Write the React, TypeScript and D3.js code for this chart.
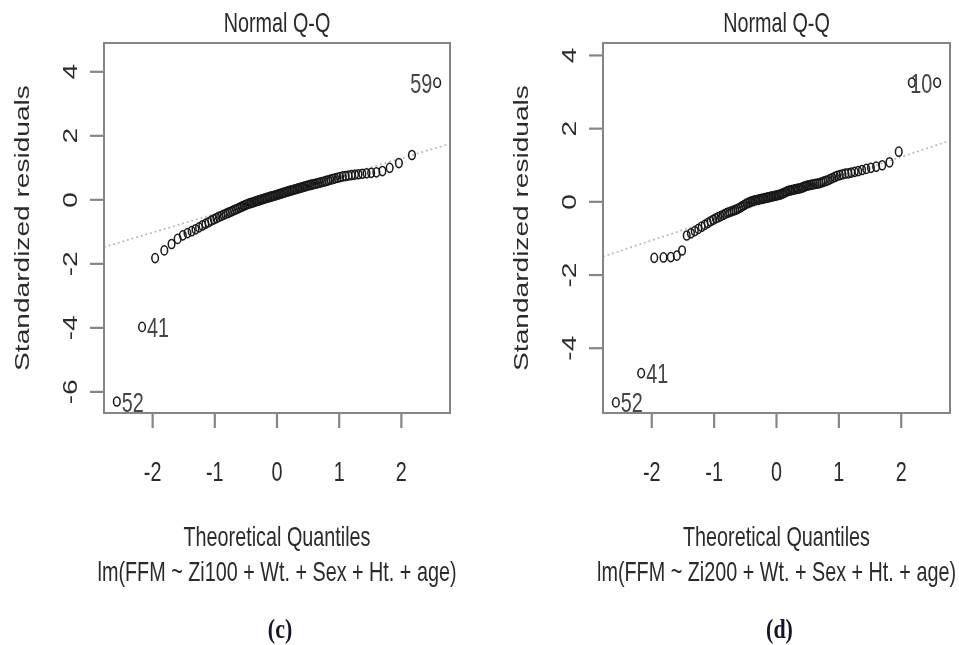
import React from "react";
import * as d3 from "d3";

// ---------- data ----------
const N_OBS = 100;

// sorted standardized residuals, panel (c)
const RESID_C = [
  -6.3, -3.97, -1.82, -1.58, -1.38, -1.22, -1.11, -1.04, -0.98, -0.92,
  -0.86, -0.8, -0.75, -0.7, -0.65, -0.61, -0.57, -0.53, -0.5, -0.47,
  -0.44, -0.41, -0.38, -0.35, -0.32, -0.295, -0.27, -0.24, -0.215, -0.19,
  -0.165, -0.14, -0.12, -0.1, -0.085, -0.07, -0.05, -0.035, -0.02, 0.0,
  0.015, 0.03, 0.045, 0.06, 0.075, 0.09, 0.105, 0.12, 0.135, 0.15,
  0.165, 0.18, 0.195, 0.21, 0.225, 0.24, 0.255, 0.27, 0.285, 0.3,
  0.315, 0.33, 0.345, 0.36, 0.375, 0.39, 0.405, 0.42, 0.435, 0.45,
  0.465, 0.48, 0.495, 0.51, 0.525, 0.54, 0.555, 0.57, 0.59, 0.61,
  0.63, 0.65, 0.67, 0.69, 0.71, 0.73, 0.745, 0.76, 0.775, 0.79,
  0.8, 0.815, 0.83, 0.845, 0.86, 0.9, 1.0, 1.15, 1.4, 3.66,
];

// sorted standardized residuals, panel (d)
const RESID_D = [
  -5.48, -4.68, -1.53, -1.52, -1.51, -1.47, -1.33, -0.92, -0.86, -0.8,
  -0.74, -0.68, -0.63, -0.58, -0.53, -0.49, -0.45, -0.42, -0.39, -0.36,
  -0.33, -0.3, -0.28, -0.26, -0.24, -0.22, -0.2, -0.17, -0.14, -0.11,
  -0.08, -0.05, -0.03, -0.01, 0.01, 0.03, 0.04, 0.05, 0.06, 0.07,
  0.08, 0.09, 0.1, 0.11, 0.12, 0.13, 0.14, 0.15, 0.16, 0.17,
  0.18, 0.19, 0.2, 0.22, 0.24, 0.26, 0.28, 0.3, 0.31, 0.32,
  0.33, 0.34, 0.35, 0.36, 0.37, 0.38, 0.4, 0.42, 0.44, 0.45,
  0.46, 0.47, 0.48, 0.49, 0.5, 0.51, 0.53, 0.55, 0.57, 0.59,
  0.62, 0.65, 0.68, 0.71, 0.73, 0.75, 0.77, 0.78, 0.8, 0.82,
  0.84, 0.87, 0.9, 0.93, 0.96, 1.0, 1.08, 1.37, 3.26, 3.26,
];

// labelled points: rank in sorted order -> observation id
const LABELS_C = [
  { rank: 1, id: "52" },
  { rank: 2, id: "41" },
  { rank: 100, id: "59" },
];
const LABELS_D = [
  { rank: 1, id: "52" },
  { rank: 2, id: "41" },
  { rank: 100, id: "10" },
];

// reference (qq) lines: [intercept, slope]
const QQLINE_C = [0.137, 0.58];
const QQLINE_D = [0.087, 0.57];

const X_TICKS = [-2, -1, 0, 1, 2];
const Y_TICKS_C = [-6, -4, -2, 0, 2, 4];
const Y_TICKS_D = [-4, -2, 0, 2, 4];

const TITLE = "Normal Q-Q";
const XLAB = "Theoretical Quantiles";
const YLAB = "Standardized residuals";
const SUB_C = "lm(FFM ~ Zi100 + Wt. + Sex + Ht. + age)";
const SUB_D = "lm(FFM ~ Zi200 + Wt. + Sex + Ht. + age)";
const TAG_C = "(c)";
const TAG_D = "(d)";

// ---------- helpers ----------
function qnorm(p: number): number {
  const a = [-3.969683028665376e1, 2.209460984245205e2, -2.759285104469687e2, 1.38357751867269e2, -3.066479806614716e1, 2.506628277459239];
  const b = [-5.447609879822406e1, 1.615858368580409e2, -1.556989798598866e2, 6.680131188771972e1, -1.328068155288572e1];
  const c = [-7.784894002430293e-3, -3.223964580411365e-1, -2.400758277161838, -2.549671010173563, 4.374664141464968, 2.938163982698783];
  const d = [7.784695709041462e-3, 3.224671290700398e-1, 2.445134137142996, 3.754408661907416];
  const pl = 0.02425;
  if (p < pl) {
    const q = Math.sqrt(-2 * Math.log(p));
    return (((((c[0] * q + c[1]) * q + c[2]) * q + c[3]) * q + c[4]) * q + c[5]) / ((((d[0] * q + d[1]) * q + d[2]) * q + d[3]) * q + 1);
  }
  if (p > 1 - pl) {
    const q = Math.sqrt(-2 * Math.log(1 - p));
    return -(((((c[0] * q + c[1]) * q + c[2]) * q + c[3]) * q + c[4]) * q + c[5]) / ((((d[0] * q + d[1]) * q + d[2]) * q + d[3]) * q + 1);
  }
  const q = p - 0.5;
  const r = q * q;
  return ((((((a[0] * r + a[1]) * r + a[2]) * r + a[3]) * r + a[4]) * r + a[5]) * q) / (((((b[0] * r + b[1]) * r + b[2]) * r + b[3]) * r + b[4]) * r + 1);
}

// theoretical quantiles (R's ppoints for n > 10)
const THEO = d3.range(N_OBS).map((i) => qnorm((i + 1 - 0.5) / N_OBS));

const FONT = "'Liberation Sans', Arial, Helvetica, sans-serif";
const FS = 19.8;
const SY = 1.42; // vertical stretch of the picture
const TXT = "#2b2b2b";
const AXIS = "#858585";

type PanelProps = {
  id: string;
  left: number;
  right: number;
  top: number;
  bottom: number;
  yDomain: [number, number];
  resid: number[];
  labels: { rank: number; id: string }[];
  line: number[];
  yTicks: number[];
  sub: string;
  tag: string;
};

function HText({ x, y, text, anchor = "middle", fill = TXT, size = FS }: any) {
  return (
    <text
      transform={`translate(${x},${y}) scale(1,${SY})`}
      fontFamily={FONT}
      fontSize={size}
      textAnchor={anchor}
      fill={fill}
    >
      {text}
    </text>
  );
}

function VText({ x, y, text, size = FS }: any) {
  return (
    <text
      transform={`translate(${x},${y}) scale(1,${SY}) rotate(-90)`}
      fontFamily={FONT}
      fontSize={size}
      textAnchor="middle"
      fill={TXT}
    >
      {text}
    </text>
  );
}

function Panel(p: PanelProps) {
  const x = d3.scaleLinear().domain([-2.782, 2.782]).range([p.left, p.right]);
  const y = d3.scaleLinear().domain(p.yDomain).range([p.bottom, p.top]);
  const cx = (p.left + p.right) / 2;
  const [x0, x1] = x.domain();
  const lineGen = d3
    .line<number>()
    .x((v) => x(v))
    .y((v) => y(p.line[0] + p.line[1] * v));
  const clipId = `clip-${p.id}`;
  const cap = 0.358 * FS * SY; // half cap height in pixels

  return (
    <g>
      <defs>
        <clipPath id={clipId}>
          <rect x={p.left} y={p.top} width={p.right - p.left} height={p.bottom - p.top} />
        </clipPath>
      </defs>

      {/* reference line */}
      <path
        d={lineGen([x0, x1]) || ""}
        clipPath={`url(#${clipId})`}
        fill="none"
        stroke="#b8b8b8"
        strokeWidth={1.8}
        strokeDasharray="1.8,3"
      />

      {/* points (markers stretched like the picture) */}
      {p.resid.map((r, i) => (
        <ellipse
          key={i}
          cx={x(THEO[i])}
          cy={y(r)}
          rx={3.3}
          ry={4.6}
          fill="none"
          stroke="#1a1a1a"
          strokeWidth={1.5}
        />
      ))}

      {/* point labels */}
      {p.labels.map((l) => {
        const px = x(THEO[l.rank - 1]);
        const py = y(p.resid[l.rank - 1]);
        const onLeft = THEO[l.rank - 1] > 0;
        return (
          <HText
            key={l.id}
            x={onLeft ? px - 5 : px + 5}
            y={py + cap}
            text={l.id}
            anchor={onLeft ? "end" : "start"}
            fill="#444"
          />
        );
      })}

      {/* box */}
      <rect
        x={p.left}
        y={p.top}
        width={p.right - p.left}
        height={p.bottom - p.top}
        fill="none"
        stroke={AXIS}
        strokeWidth={2}
      />

      {/* x axis */}
      {X_TICKS.map((t) => (
        <g key={`x${t}`}>
          <line x1={x(t)} x2={x(t)} y1={p.bottom} y2={p.bottom + 15} stroke={AXIS} strokeWidth={2.2} />
          <HText x={x(t)} y={481} text={t < 0 ? `-${Math.abs(t)}` : `${t}`} />
        </g>
      ))}

      {/* y axis */}
      {p.yTicks.map((t) => (
        <g key={`y${t}`}>
          <line x1={p.left - 14} x2={p.left} y1={y(t)} y2={y(t)} stroke={AXIS} strokeWidth={2.2} />
          <VText x={p.left - 27} y={y(t)} text={t < 0 ? `-${Math.abs(t)}` : `${t}`} />
        </g>
      ))}

      {/* titles */}
      <HText x={cx} y={32} text={TITLE} />
      <HText x={cx} y={546} text={XLAB} />
      <HText x={cx} y={581} text={p.sub} />
      <VText x={p.left - 75} y={228} text={YLAB} />

      <text
        transform={`translate(${cx + 3},${638}) scale(1,1.2)`}
        fontFamily="'Liberation Serif', 'Times New Roman', serif"
        fontSize={22}
        fontWeight="bold"
        textAnchor="middle"
        fill="#141428"
      >
        {p.tag}
      </text>
    </g>
  );
}

export default function App() {
  return (
    <svg
      width={959}
      height={645}
      viewBox="0 0 959 645"
      style={{ position: "absolute", left: 0, top: 0, background: "#fff" }}
    >
      <defs>
        <filter id="soft" x="-5%" y="-5%" width="110%" height="110%">
          <feGaussianBlur stdDeviation="0.45" />
        </filter>
      </defs>
      <rect x={0} y={0} width={959} height={645} fill="#fff" />
      <g filter="url(#soft)">
        <Panel
          id="c"
          left={104}
          right={450}
          top={43}
          bottom={413}
          yDomain={[-6.66, 4.9]}
          resid={RESID_C}
          labels={LABELS_C}
          line={QQLINE_C}
          yTicks={Y_TICKS_C}
          sub={SUB_C}
          tag={TAG_C}
        />
        <Panel
          id="d"
          left={603}
          right={950}
          top={43}
          bottom={413}
          yDomain={[-5.77, 4.34]}
          resid={RESID_D}
          labels={LABELS_D}
          line={QQLINE_D}
          yTicks={Y_TICKS_D}
          sub={SUB_D}
          tag={TAG_D}
        />
      </g>
    </svg>
  );
}
